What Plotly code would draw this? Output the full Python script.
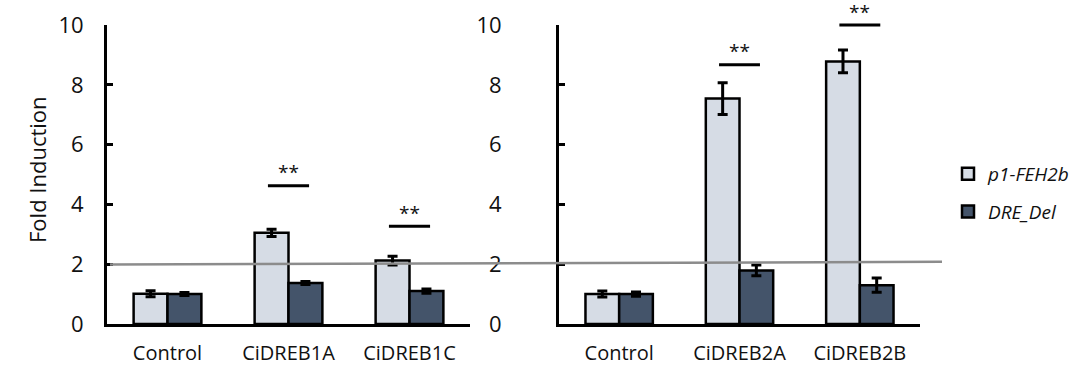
import plotly.graph_objects as go

W, H = 1083, 367
YMAX = 10

cats_left = ["Control", "CiDREB1A", "CiDREB1C"]
cats_right = ["Control", "CiDREB2A", "CiDREB2B"]
series_names = ["p1-FEH2b", "DRE_Del"]

p1_left = [1.01, 3.05, 2.12]
p1_left_err = [0.10, 0.12, 0.15]
dre_left = [1.00, 1.37, 1.10]
dre_left_err = [0.05, 0.05, 0.07]

p1_right = [1.00, 7.54, 8.78]
p1_right_err = [0.10, 0.53, 0.38]
dre_right = [1.00, 1.79, 1.30]
dre_right_err = [0.07, 0.18, 0.24]

# significance marks: (category index, line height, text height)
sig_left = [(1, 4.62, 5.07), (2, 3.27, 3.72)]
sig_right = [(1, 8.67, 9.12), (2, 10.0, 10.45)]
baseline_y = [1.99, 2.08]

LIGHT = "#D6DCE5"
DARK = "#44546A"
FONT = "Open Sans"
TXT = "#111"

fig = go.Figure()

def add_bars(cats, p1, p1e, dre, dree, xa, ya, show):
    fig.add_trace(go.Bar(
        x=cats, y=p1, name=series_names[0], xaxis=xa, yaxis=ya,
        marker=dict(color=LIGHT, line=dict(color="black", width=2.5)),
        error_y=dict(type="data", array=p1e, color="black", thickness=3, width=5),
        showlegend=show, legendgroup="a", offsetgroup="a"))
    fig.add_trace(go.Bar(
        x=cats, y=dre, name=series_names[1], xaxis=xa, yaxis=ya,
        marker=dict(color=DARK, line=dict(color="black", width=2.5)),
        error_y=dict(type="data", array=dree, color="black", thickness=3, width=5),
        showlegend=show, legendgroup="b", offsetgroup="b"))

add_bars(cats_left, p1_left, p1_left_err, dre_left, dre_left_err, "x", "y", True)
add_bars(cats_right, p1_right, p1_right_err, dre_right, dre_right_err, "x2", "y2", False)

ydom = [1 - 324 / H, 1 - 25 / H]
yaxis_common = dict(range=[0, YMAX], tickvals=[0, 2, 4, 6, 8, 10], ticks="inside",
                    ticklen=6, tickwidth=3, tickcolor="black", showline=True,
                    linecolor="black", linewidth=3, showgrid=False, zeroline=False,
                    tickfont=dict(family=FONT, size=22, color=TXT),
                    domain=ydom, automargin=False)
xaxis_common = dict(type="category", range=[-0.5, 2.5], showline=True, linecolor="black",
                    linewidth=3, ticks="", showgrid=False, zeroline=False,
                    tickfont=dict(family=FONT, size=20, color=TXT),
                    ticklabelstandoff=9, automargin=False)

fig.update_layout(
    width=W, height=H, margin=dict(l=0, r=0, t=0, b=0),
    plot_bgcolor="white", paper_bgcolor="white",
    barmode="group", bargap=0.44, bargroupgap=0,
    xaxis=dict(domain=[107 / W, 470 / W], anchor="y", **xaxis_common),
    xaxis2=dict(domain=[559 / W, 920 / W], anchor="y2", **xaxis_common),
    yaxis=dict(anchor="x", ticklabelstandoff=16, **yaxis_common),
    yaxis2=dict(anchor="x2", ticklabelstandoff=50, **yaxis_common),
    legend=dict(x=948 / W, y=1 - 155 / H, xanchor="left", yanchor="top",
                font=dict(family=FONT, size=19, color=TXT, style="italic"),
                tracegroupgap=10, traceorder="grouped", bgcolor="rgba(0,0,0,0)"),
    font=dict(family=FONT),
)

# y-axis title
fig.add_annotation(text="Fold Induction", xref="paper", yref="paper",
                   x=20 / W, y=1 - 170 / H, textangle=-90, showarrow=False,
                   font=dict(family=FONT, size=22, color=TXT))

# baseline at fold induction 2 across both panels
fig.add_shape(type="line", xref="paper", yref="y", x0=110 / W, x1=942 / W,
              y0=baseline_y[0], y1=baseline_y[1], line=dict(color="#8c8c8c", width=2.5))

def add_sig(sigs, xa, ya):
    for idx, ly, ty in sigs:
        fig.add_shape(type="line", xref=xa, yref=ya + " domain",
                      x0=idx - 0.17, x1=idx + 0.17, y0=ly / YMAX, y1=ly / YMAX,
                      line=dict(color="black", width=3))
        fig.add_annotation(text="**", xref=xa, yref=ya + " domain", x=idx, y=ty / YMAX,
                           xanchor="center", yanchor="middle",
                           showarrow=False, font=dict(family=FONT, size=19, color=TXT))

add_sig(sig_left, "x", "y")
add_sig(sig_right, "x2", "y2")

fig.write_html("out.html")
